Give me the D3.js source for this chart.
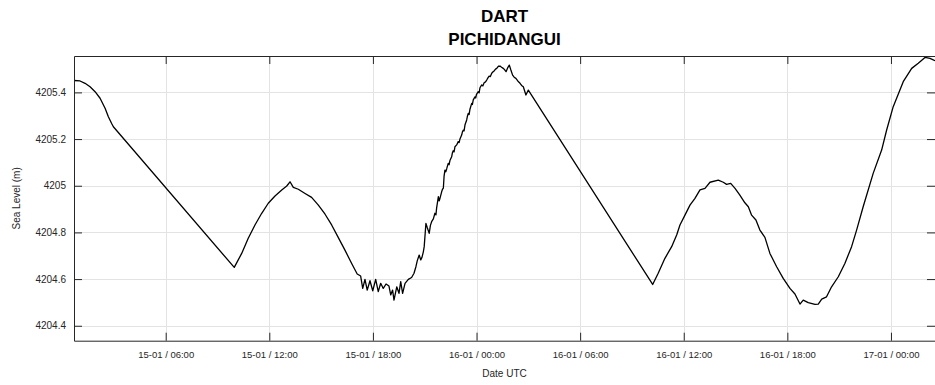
<!DOCTYPE html>
<html>
<head>
<meta charset="utf-8">
<script src="https://cdn.jsdelivr.net/npm/d3@7"></script>
<style>
  html, body { margin: 0; padding: 0; background: #fff; }
  svg { display: block; }
  text { font-family: "Liberation Sans", Arial, Helvetica, sans-serif; }
</style>
</head>
<body>
<svg id="chart" width="935" height="385"></svg>
<script>
// ---- data (hours since 15-01 00:00 UTC, sea level in m) ----
const titleLines = ["DART", "PICHIDANGUI"];
const xLabel = "Date UTC";
const yLabel = "Sea Level (m)";
const baseDate = Date.UTC(2022, 0, 15, 0, 0);

// 15-01 early morning to the tsunami arrival
const hoursA = [
  0.69, 1.04, 1.33, 1.62, 1.91, 2.20, 2.49, 2.68, 2.87, 2.97,
  9.97, 10.40, 10.78, 11.17, 11.56, 11.94, 12.33, 12.72, 13.01, 13.20,
  13.39, 13.68, 14.07, 14.45, 14.84, 15.22, 15.61, 15.99, 16.38, 16.77,
  17.09, 17.29, 17.41, 17.54, 17.67, 17.83, 17.99, 18.16, 18.31, 18.45,
  18.60, 18.76, 18.93, 19.03, 19.14, 19.22, 19.38, 19.51, 19.61, 19.72,
  19.86, 20.05, 20.24, 20.38, 20.49, 20.57, 20.68, 20.77, 20.84, 20.92,
  20.97
];
const levelA = [
  4205.451, 4205.449, 4205.439, 4205.424, 4205.403, 4205.375, 4205.332, 4205.296, 4205.267, 4205.253,
  4204.650, 4204.710, 4204.775, 4204.832, 4204.882, 4204.925, 4204.956, 4204.982, 4204.999, 4205.017,
  4204.993, 4204.985, 4204.967, 4204.950, 4204.917, 4204.879, 4204.832, 4204.779, 4204.724, 4204.667,
  4204.622, 4204.613, 4204.560, 4204.599, 4204.553, 4204.593, 4204.550, 4204.599, 4204.546, 4204.582,
  4204.560, 4204.579, 4204.570, 4204.532, 4204.553, 4204.510, 4204.567, 4204.539, 4204.589, 4204.539,
  4204.582, 4204.599, 4204.607, 4204.625, 4204.653, 4204.679, 4204.703, 4204.682, 4204.693, 4204.717,
  4204.739
];

// noisy rise to the 16-01 high
const hoursB = [
  21.07, 21.15, 21.26, 21.33, 21.40, 21.50, 21.59, 21.65, 21.69, 21.79,
  21.84, 21.88, 21.98, 22.03, 22.08, 22.12, 22.17, 22.22, 22.27, 22.36,
  22.41, 22.46, 22.56, 22.60, 22.65, 22.70, 22.75, 22.85, 22.94, 22.99,
  23.04, 23.14, 23.18, 23.23, 23.28, 23.33, 23.43, 23.48, 23.52, 23.57,
  23.62, 23.72, 23.76, 23.81, 23.91, 23.95, 24.00, 24.10, 24.15, 24.20,
  24.30, 24.37, 24.44, 24.52, 24.59, 24.66, 24.73, 24.80, 24.88, 24.95,
  25.02, 25.10, 25.17, 25.26, 25.36, 25.45, 25.55, 25.63, 25.71, 25.80,
  25.90, 25.98, 26.09, 26.18, 26.28, 26.40, 26.52, 26.61, 26.71, 26.86,
  27.00
];
const levelB = [
  4204.839, 4204.820, 4204.796, 4204.830, 4204.846, 4204.858, 4204.882, 4204.875, 4204.905, 4204.953,
  4204.935, 4204.945, 4204.974, 4204.985, 4204.990, 4205.040, 4205.067, 4205.060, 4205.072, 4205.096,
  4205.090, 4205.108, 4205.124, 4205.140, 4205.150, 4205.145, 4205.167, 4205.175, 4205.189, 4205.185,
  4205.200, 4205.217, 4205.230, 4205.238, 4205.235, 4205.260, 4205.282, 4205.300, 4205.310, 4205.305,
  4205.328, 4205.353, 4205.348, 4205.368, 4205.381, 4205.376, 4205.392, 4205.403, 4205.398, 4205.420,
  4205.432, 4205.428, 4205.441, 4205.445, 4205.453, 4205.462, 4205.470, 4205.468, 4205.482, 4205.488,
  4205.492, 4205.500, 4205.503, 4205.512, 4205.513, 4205.508, 4205.503, 4205.497, 4205.489, 4205.505,
  4205.517, 4205.498, 4205.474, 4205.465, 4205.460, 4205.448, 4205.439, 4205.430, 4205.424, 4205.389,
  4205.410
];

// 16-01 morning to 17-01
const hoursC = [
  34.20, 34.52, 34.91, 35.30, 35.59, 35.78, 36.07, 36.36, 36.65, 36.94,
  37.23, 37.52, 38.00, 38.29, 38.48, 38.72, 38.97, 39.25, 39.54, 39.74,
  39.93, 40.18, 40.41, 40.70, 40.99, 41.38, 41.76, 42.15, 42.44, 42.73,
  42.92, 43.21, 43.60, 43.79, 43.99, 44.27, 44.56, 44.95, 45.33, 45.72,
  46.01, 46.39, 46.97, 47.46, 47.75, 48.13, 48.71, 49.20, 49.58, 49.97,
  50.26, 50.55
];
const levelC = [
  4204.577, 4204.625, 4204.689, 4204.739, 4204.789, 4204.832, 4204.874, 4204.917, 4204.946, 4204.982,
  4204.989, 4205.015, 4205.024, 4205.015, 4205.006, 4205.010, 4204.989, 4204.960, 4204.927, 4204.910,
  4204.874, 4204.853, 4204.810, 4204.779, 4204.710, 4204.653, 4204.603, 4204.560, 4204.536, 4204.493,
  4204.510, 4204.499, 4204.492, 4204.493, 4204.514, 4204.524, 4204.567, 4204.610, 4204.667, 4204.739,
  4204.810, 4204.910, 4205.053, 4205.153, 4205.239, 4205.339, 4205.446, 4205.503, 4205.525, 4205.550,
  4205.546, 4205.536
];

const yDomain = [4204.336, 4205.556];
const yTicks = [4204.4, 4204.6, 4204.8, 4205, 4205.2, 4205.4];
const yTickLabels = ["4204.4", "4204.6", "4204.8", "4205", "4205.2", "4205.4"];
const xTickHours = [6, 12, 18, 24, 30, 36, 42, 48];
const xTickLabels = ["15-01 / 06:00", "15-01 / 12:00", "15-01 / 18:00", "16-01 / 00:00",
                     "16-01 / 06:00", "16-01 / 12:00", "16-01 / 18:00", "17-01 / 00:00"];

// ---- layout ----
const plot = { left: 74, right: 935, top: 56, bottom: 340.7 };
const axisColor = "#262626";
const gridColor = "#e3e3e3";
const tickLen = 8;

const toDate = h => new Date(baseDate + h * 3600 * 1000);
const hours = hoursA.concat(hoursB, hoursC);
const seaLevel = levelA.concat(levelB, levelC);
const data = hours.map((h, i) => ({ t: toDate(h), v: seaLevel[i] }));

const x = d3.scaleUtc()
  .domain([toDate(hours[0]), toDate(hours[hours.length - 1])])
  .range([plot.left, plot.right]);
const y = d3.scaleLinear().domain(yDomain).range([plot.bottom, plot.top]);

const svg = d3.select("#chart");
const xTickDates = xTickHours.map(toDate);

// gridlines
const grid = svg.append("g");
grid.selectAll("line.gx").data(xTickDates).join("line")
  .attr("x1", d => Math.round(x(d)) + 0.5).attr("x2", d => Math.round(x(d)) + 0.5)
  .attr("y1", plot.top).attr("y2", plot.bottom)
  .attr("stroke", gridColor).attr("stroke-width", 1);
grid.selectAll("line.gy").data(yTicks).join("line")
  .attr("x1", plot.left).attr("x2", plot.right)
  .attr("y1", d => Math.round(y(d)) + 0.5).attr("y2", d => Math.round(y(d)) + 0.5)
  .attr("stroke", gridColor).attr("stroke-width", 1);

// data line
svg.append("path")
  .datum(data)
  .attr("fill", "none")
  .attr("stroke", "#000")
  .attr("stroke-width", 1.3)
  .attr("stroke-linejoin", "round")
  .attr("d", d3.line().x(d => x(d.t)).y(d => y(d.v)));

// axes
function styleAxis(g) {
  g.select(".domain").attr("stroke", axisColor).attr("stroke-width", 1);
  g.selectAll(".tick line").attr("stroke", axisColor).attr("stroke-width", 1);
  g.selectAll(".tick text").attr("fill", axisColor)
    .style("font-family", '"Liberation Sans", Arial, sans-serif');
}

const xAxis = d3.axisBottom(x).tickValues(xTickDates)
  .tickFormat((d, i) => xTickLabels[i])
  .tickSizeInner(-tickLen).tickSizeOuter(0).tickPadding(11);
svg.append("g").attr("transform", `translate(0,${plot.bottom})`).call(xAxis)
  .call(styleAxis).selectAll(".tick text").style("font-size", "9.5px");

svg.append("g").attr("transform", `translate(0,${plot.top})`)
  .call(d3.axisTop(x).tickValues(xTickDates).tickFormat("").tickSizeInner(-tickLen).tickSizeOuter(0))
  .call(styleAxis);

const yAxis = d3.axisLeft(y).tickValues(yTicks)
  .tickFormat((d, i) => yTickLabels[i])
  .tickSizeInner(-tickLen).tickSizeOuter(0).tickPadding(8);
svg.append("g").attr("transform", `translate(${plot.left},0)`).call(yAxis)
  .call(styleAxis).selectAll(".tick text").style("font-size", "10px");

svg.append("g").attr("transform", `translate(${plot.right},0)`)
  .call(d3.axisRight(y).tickValues(yTicks).tickFormat("").tickSizeInner(-tickLen).tickSizeOuter(0))
  .call(styleAxis);

// axis labels
svg.append("text")
  .attr("x", (plot.left + plot.right) / 2).attr("y", 377)
  .attr("text-anchor", "middle").attr("fill", axisColor)
  .style("font-size", "10px").text(xLabel);

svg.append("text")
  .attr("transform", `translate(20,${(plot.top + plot.bottom) / 2}) rotate(-90)`)
  .attr("text-anchor", "middle").attr("fill", axisColor)
  .style("font-size", "10px").text(yLabel);

// title
titleLines.forEach((t, i) => {
  svg.append("text")
    .attr("x", (plot.left + plot.right) / 2)
    .attr("y", 22 + i * 23)
    .attr("text-anchor", "middle")
    .attr("fill", "#000")
    .style("font-size", "17px").style("font-weight", "bold")
    .text(t);
});
</script>
</body>
</html>
